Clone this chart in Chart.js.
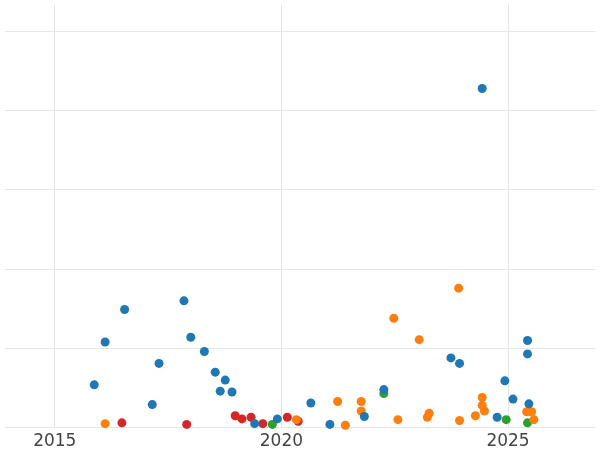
<!DOCTYPE html>
<html><head><meta charset="utf-8">
<script src="https://cdn.jsdelivr.net/npm/chart.js@4"></script>
<style>html,body{margin:0;background:#fff;overflow:hidden}#wrap{width:600px;height:450px}</style>
</head><body><div id="wrap"><canvas id="c"></canvas></div>
<script>
// 데이터 (x = 연도, y = 값)
const blueX = [2015.87,2016.11,2016.54,2017.15,2017.30,2017.85,2018.00,2018.30,2018.54,2018.65,2018.76,2018.91,2019.41,2019.91,2020.65,2021.07,2021.83,2022.26,2023.74,2023.93,2024.43,2024.76,2024.93,2025.11,2025.43,2025.43,2025.46];
const blueY = [0.54,1.08,1.49,0.29,0.81,1.60,1.14,0.96,0.70,0.46,0.60,0.45,0.05,0.11,0.31,0.04,0.14,0.48,0.88,0.81,4.28,0.13,0.59,0.36,1.10,0.93,0.30];
const orangeX = [2016.11,2020.33,2021.24,2021.41,2021.76,2021.76,2022.48,2022.57,2023.04,2023.22,2023.26,2023.91,2023.93,2024.28,2024.43,2024.43,2024.48,2025.41,2025.52,2025.57];
const orangeY = [0.05,0.10,0.33,0.03,0.33,0.21,1.38,0.10,1.11,0.13,0.18,1.76,0.09,0.15,0.38,0.28,0.21,0.20,0.20,0.10];
const greenX = [2019.80,2022.26,2024.96,2025.43];
const greenY = [0.04,0.43,0.10,0.06];
const redX = [2016.48,2017.91,2018.98,2019.13,2019.33,2019.59,2020.13,2020.37];
const redY = [0.06,0.04,0.15,0.11,0.13,0.05,0.13,0.08];
const xTicks = [2015, 2020, 2025];

function pts(xs, ys) { return xs.map((x, i) => ({x: x, y: ys[i]})); }
function ds(xs, ys, color) {
    return {data: pts(xs, ys), backgroundColor: color, borderWidth: 0, pointRadius: 4.5, clip: false};
}

new Chart(document.getElementById('c'), {
    type: 'scatter',
    data: {datasets: [
        ds(blueX, blueY, '#1f77b4'),
        ds(orangeX, orangeY, '#ff7f0e'),
        ds(greenX, greenY, '#2ca02c'),
        ds(redX, redY, '#d62728')
    ]},
    options: {
        responsive: true, maintainAspectRatio: false, animation: false,
        layout: {padding: {left: -5, right: -5, top: -5, bottom: -6}},
        plugins: {legend: {display: false}, tooltip: {enabled: false}},
        scales: {
            x: {
                type: 'linear', min: 2013.89, max: 2026.93,
                afterBuildTicks: axis => { axis.ticks = xTicks.map(v => ({value: v})); },
                grid: {color: '#e6e6e6', drawTicks: false},
                border: {display: false},
                ticks: {color: '#444', font: {family: 'DejaVu Sans', size: 17}, padding: 4,
                        callback: v => String(v)}
            },
            y: {
                min: 0, max: 5.34,
                afterBuildTicks: axis => { axis.ticks = [0,1,2,3,4,5].map(v => ({value: v})); },
                grid: {color: '#e6e6e6', drawTicks: false},
                border: {display: false},
                ticks: {display: false}
            }
        }
    }
});
</script></body></html>
